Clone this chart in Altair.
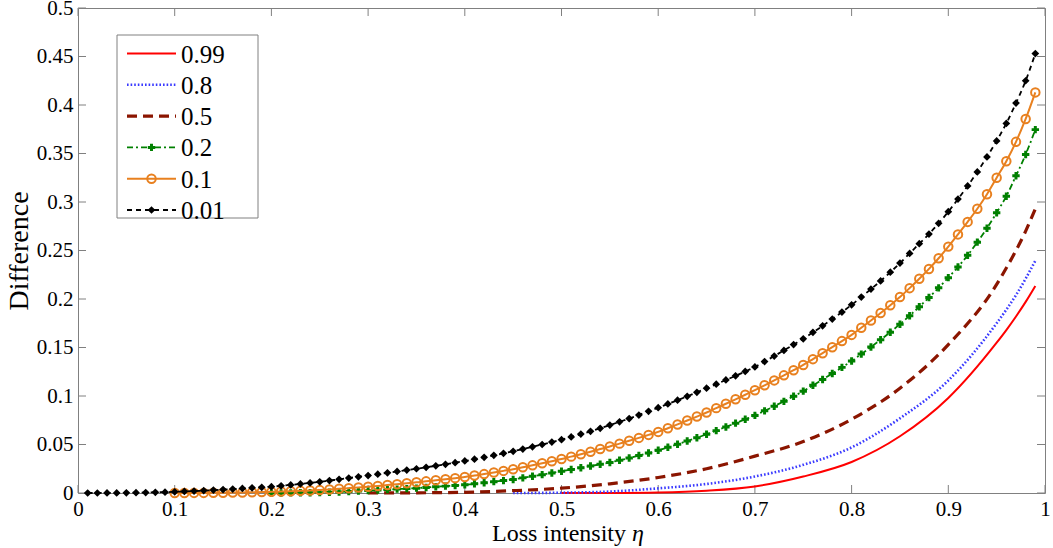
import altair as alt
import pandas as pd

# ---------------- data ----------------
ETA_001 = [round(0.01 * i, 2) for i in range(1, 100)]          # 0.01 .. 0.99
VAL_001 = [0.0000,0.0000,0.0001,0.0001,0.0002,0.0003,0.0005,0.0007,0.0009,0.0012,
           0.0016,0.0020,0.0025,0.0030,0.0035,0.0041,0.0047,0.0053,0.0059,0.0065,
           0.0074,0.0083,0.0094,0.0104,0.0115,0.0128,0.0141,0.0154,0.0167,0.0180,
           0.0194,0.0208,0.0222,0.0236,0.0250,0.0265,0.0280,0.0296,0.0313,0.0330,
           0.0349,0.0368,0.0388,0.0409,0.0430,0.0453,0.0476,0.0500,0.0525,0.0550,
           0.0578,0.0607,0.0636,0.0667,0.0700,0.0734,0.0768,0.0804,0.0842,0.0880,
           0.0918,0.0957,0.0997,0.1038,0.1080,0.1122,0.1165,0.1208,0.1253,0.1300,
           0.1355,0.1412,0.1470,0.1530,0.1590,0.1656,0.1723,0.1793,0.1865,0.1940,
           0.2020,0.2102,0.2186,0.2276,0.2370,0.2470,0.2570,0.2670,0.2780,0.2900,
           0.3030,0.3165,0.3310,0.3465,0.3630,0.3810,0.4020,0.4250,0.4530]

ETA_01 = [round(0.01 * i, 2) for i in range(10, 100)]          # 0.10 .. 0.99
VAL_01 = [0.0000,0.0000,0.0001,0.0001,0.0002,0.0003,0.0004,0.0006,0.0008,0.0010,
          0.0012,0.0015,0.0018,0.0022,0.0026,0.0030,0.0036,0.0043,0.0050,0.0057,
          0.0065,0.0073,0.0082,0.0091,0.0100,0.0110,0.0120,0.0131,0.0142,0.0153,
          0.0165,0.0180,0.0195,0.0211,0.0228,0.0245,0.0265,0.0285,0.0306,0.0328,
          0.0350,0.0375,0.0400,0.0426,0.0453,0.0480,0.0509,0.0538,0.0568,0.0599,
          0.0630,0.0668,0.0707,0.0747,0.0788,0.0830,0.0875,0.0920,0.0966,0.1013,
          0.1060,0.1110,0.1161,0.1213,0.1266,0.1320,0.1380,0.1441,0.1503,0.1566,
          0.1630,0.1703,0.1778,0.1855,0.1936,0.2020,0.2112,0.2208,0.2310,0.2420,
          0.2540,0.2666,0.2795,0.2930,0.3080,0.3250,0.3420,0.3620,0.3856,0.4130]

ETA_02 = [round(0.01 * i, 2) for i in range(20, 100)]          # 0.20 .. 0.99
VAL_02 = [0.0000,0.0000,0.0001,0.0002,0.0003,0.0004,0.0007,0.0011,0.0015,0.0020,
          0.0025,0.0030,0.0035,0.0040,0.0045,0.0050,0.0057,0.0064,0.0071,0.0078,
          0.0085,0.0095,0.0106,0.0117,0.0128,0.0140,0.0156,0.0172,0.0189,0.0207,
          0.0225,0.0242,0.0260,0.0278,0.0296,0.0315,0.0337,0.0361,0.0386,0.0412,
          0.0440,0.0471,0.0503,0.0536,0.0570,0.0605,0.0643,0.0681,0.0720,0.0760,
          0.0800,0.0847,0.0895,0.0945,0.0997,0.1050,0.1110,0.1170,0.1232,0.1295,
          0.1360,0.1432,0.1505,0.1580,0.1658,0.1740,0.1828,0.1920,0.2015,0.2115,
          0.2220,0.2330,0.2450,0.2586,0.2730,0.2890,0.3060,0.3270,0.3490,0.3746]

ETA_05 = [0.30,0.35,0.40,0.45,0.50,0.55,0.60,0.65,0.70,0.75,0.80,0.85,0.90,0.95,0.96,0.97,0.98,0.99]
VAL_05 = [0.0000,0.0002,0.0007,0.0024,0.0050,0.0095,0.0160,0.0250,0.0380,0.0530,0.0760,0.1080,0.1530,0.2150,0.2320,0.2500,0.2700,0.2930]

ETA_08 = [0.45,0.50,0.55,0.60,0.65,0.70,0.75,0.80,0.85,0.90,0.95,0.96,0.97,0.98,0.99]
VAL_08 = [0.0000,0.0003,0.0015,0.0048,0.0093,0.0170,0.0290,0.0470,0.0770,0.1160,0.1750,0.1890,0.2040,0.2210,0.2395]

ETA_099 = [0.50,0.55,0.60,0.65,0.70,0.75,0.80,0.85,0.90,0.95,0.96,0.97,0.98,0.99]
VAL_099 = [0.0000,0.0001,0.0006,0.0024,0.0068,0.0170,0.0320,0.0585,0.0980,0.1550,0.1680,0.1820,0.1970,0.2134]

LEGEND_LABELS = ["0.99", "0.8", "0.5", "0.2", "0.1", "0.01"]
X_TICKS = [0, 0.1, 0.2, 0.3, 0.4, 0.5, 0.6, 0.7, 0.8, 0.9, 1.0]
Y_TICKS = [0, 0.05, 0.1, 0.15, 0.2, 0.25, 0.3, 0.35, 0.4, 0.45, 0.5]

# ---------------- layout / style ----------------
W, H = 967, 485
FONT = "Liberation Serif"
FRAME = "#808080"
TICK = 8

xs = alt.Scale(domain=[0, 1], nice=False, zero=False)
ys = alt.Scale(domain=[0, 0.5], nice=False, zero=False)

X = alt.X("eta:Q", scale=xs,
          axis=alt.Axis(values=X_TICKS, format=".1~f", ticks=False, domain=False, grid=False,
                        labelFont=FONT, labelFontSize=21, labelColor="black",
                        labelPadding=5, labelFlush=False, labelOverlap=False, title=None))
Y = alt.Y("v:Q", scale=ys,
          axis=alt.Axis(values=Y_TICKS, format=".2~f", ticks=False, domain=False, grid=False,
                        labelFont=FONT, labelFontSize=21, labelColor="black",
                        labelPadding=5, labelFlush=False, labelOverlap=False,
                        title="Difference", titleFont=FONT, titleFontSize=28,
                        titleFontWeight="normal", titleColor="black", titlePadding=3))

def df(eta, val):
    return pd.DataFrame({"eta": eta, "v": val})

STYLES = {
    "0.99": dict(color="#FF0000", width=2.0, dash=None, shape=None),
    "0.8":  dict(color="#3A3AFF", width=2.6, dash=[1.6, 2.0], shape=None),
    "0.5":  dict(color="#8B1500", width=3.2, dash=[10, 6], shape=None),
    "0.2":  dict(color="#008000", width=1.8, dash=[6, 3, 2, 3], shape="cross"),
    "0.1":  dict(color="#E8801F", width=2.0, dash=None, shape="circle"),
    "0.01": dict(color="#000000", width=1.8, dash=[5, 4], shape="diamond"),
}
SERIES = [("0.99", ETA_099, VAL_099), ("0.8", ETA_08, VAL_08), ("0.5", ETA_05, VAL_05),
          ("0.2", ETA_02, VAL_02), ("0.1", ETA_01, VAL_01), ("0.01", ETA_001, VAL_001)]

def line_kw(st):
    kw = dict(color=st["color"], strokeWidth=st["width"], interpolate="monotone")
    if st["dash"]:
        kw["strokeDash"] = st["dash"]
    return kw

def point_kw(st):
    if st["shape"] == "circle":
        return dict(shape="circle", filled=False, size=72, strokeWidth=2, color=st["color"], opacity=1)
    if st["shape"] == "cross":
        return dict(shape="cross", filled=True, size=55, color=st["color"], opacity=1)
    return dict(shape="diamond", filled=True, size=60, color=st["color"], opacity=1)

layers = []
# tick marks drawn inward on all four sides
ydf = pd.DataFrame({"v": Y_TICKS})
xdf = pd.DataFrame({"eta": X_TICKS})
layers.append(alt.Chart(ydf).mark_rule(color=FRAME, strokeWidth=1).encode(
    y=Y, x=alt.value(0), x2=alt.value(TICK)))
layers.append(alt.Chart(ydf).mark_rule(color=FRAME, strokeWidth=1).encode(
    y=alt.Y("v:Q", scale=ys), x=alt.value(W - TICK), x2=alt.value(W)))
layers.append(alt.Chart(xdf).mark_rule(color=FRAME, strokeWidth=1).encode(
    x=X, y=alt.value(H), y2=alt.value(H - TICK)))
layers.append(alt.Chart(xdf).mark_rule(color=FRAME, strokeWidth=1).encode(
    x=alt.X("eta:Q", scale=xs), y=alt.value(0), y2=alt.value(TICK)))

for name, eta, val in SERIES:
    st = STYLES[name]
    base = alt.Chart(df(eta, val))
    layers.append(base.mark_line(**line_kw(st)).encode(x=alt.X("eta:Q", scale=xs), y=alt.Y("v:Q", scale=ys)))
    if st["shape"]:
        layers.append(base.mark_point(**point_kw(st)).encode(x=alt.X("eta:Q", scale=xs), y=alt.Y("v:Q", scale=ys)))

# ---------------- legend (drawn by hand) ----------------
LX0, LX1, LY0, LY1 = 39, 180, 27, 210
ROW0, ROWH = 45.5, 31.3
SX0, SX1, TX = 49, 98, 103
one = pd.DataFrame({"a": [0]})
layers.append(alt.Chart(one).mark_rect(fill="white", stroke=FRAME, strokeWidth=1).encode(
    x=alt.value(LX0), x2=alt.value(LX1), y=alt.value(LY0), y2=alt.value(LY1)))
for i, lab in enumerate(LEGEND_LABELS):
    st = STYLES[lab]
    yy = ROW0 + i * ROWH
    rk = dict(color=st["color"], strokeWidth=st["width"])
    if st["dash"]:
        rk["strokeDash"] = st["dash"]
    layers.append(alt.Chart(one).mark_rule(**rk).encode(
        x=alt.value(SX0), x2=alt.value(SX1), y=alt.value(yy)))
    if st["shape"]:
        layers.append(alt.Chart(one).mark_point(**point_kw(st)).encode(
            x=alt.value((SX0 + SX1) / 2), y=alt.value(yy)))
    layers.append(alt.Chart(one).mark_text(align="left", baseline="middle", font=FONT,
                                           fontSize=25, color="black").encode(
        x=alt.value(TX), y=alt.value(yy + 1), text=alt.value(lab)))

# x-axis title with italic eta
layers.append(alt.Chart(one).mark_text(align="right", baseline="alphabetic", font=FONT,
                                       fontSize=24, color="black").encode(
    x=alt.value(548), y=alt.value(533), text=alt.value("Loss intensity")))
layers.append(alt.Chart(one).mark_text(align="left", baseline="alphabetic", font=FONT,
                                       fontSize=24, fontStyle="italic", color="black").encode(
    x=alt.value(554), y=alt.value(533), text=alt.value("η")))

chart = alt.layer(*layers).properties(
    width=W, height=H,
    autosize=alt.AutoSizeParams(type="none"),
    padding={"left": 78, "top": 8, "right": 8, "bottom": 55},
    background="white",
).configure_view(stroke=FRAME, strokeWidth=1)

chart.save("out.html", embed_options={"renderer": "svg", "actions": False})
